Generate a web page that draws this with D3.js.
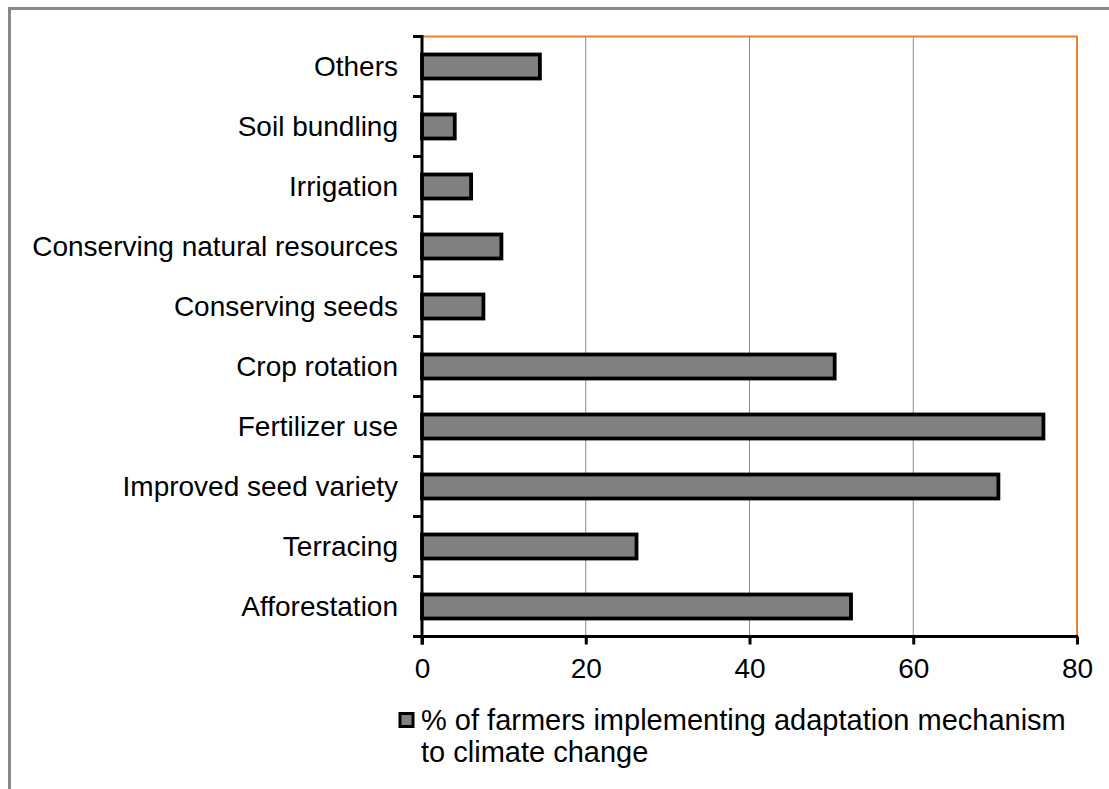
<!DOCTYPE html>
<html>
<head>
<meta charset="utf-8">
<script src="https://cdn.jsdelivr.net/npm/d3@7"></script>
<style>
  html, body { margin: 0; padding: 0; background: #fff; }
  svg { display: block; font-family: "Liberation Sans", Arial, sans-serif; }
</style>
</head>
<body>
<svg id="chart" width="1109" height="789"></svg>
<script>
// Adaptation mechanisms, listed bottom to top as drawn
const categories = [
  "Afforestation",
  "Terracing",
  "Improved seed variety",
  "Fertilizer use",
  "Crop rotation",
  "Conserving seeds",
  "Conserving natural resources",
  "Irrigation",
  "Soil bundling",
  "Others"
];
const percentFarmers = [52.4, 26.2, 70.4, 75.9, 50.4, 7.5, 9.7, 6.0, 4.0, 14.4];
const xTicks = [0, 20, 40, 60, 80];
const legendLines = ["% of farmers implementing adaptation mechanism", "to climate change"];

const svg = d3.select("#chart");
const W = 1109, H = 789;
const m = { left: 422, right: 1077, top: 36.5, bottom: 636.5 };
const fontSize = 28;

// outer frame (only top and left edges fall inside the canvas)
svg.append("path")
  .attr("d", `M9.5,${H} V8.5 H${W}`)
  .attr("fill", "none")
  .attr("stroke", "#888")
  .attr("stroke-width", 3);

const x = d3.scaleLinear().domain([0, 80]).range([m.left, m.right]);
const y = d3.scaleBand()
  .domain(categories.slice().reverse())
  .range([m.top, m.bottom])
  .paddingInner(0.6)
  .paddingOuter(0.3);

// vertical gridlines
svg.append("g")
  .selectAll("line")
  .data(xTicks.filter(t => t > 0 && t < 80))
  .join("line")
  .attr("x1", d => x(d)).attr("x2", d => x(d))
  .attr("y1", m.top).attr("y2", m.bottom)
  .attr("stroke", "#8c8c8c")
  .attr("stroke-width", 1);

// plot area top and right edges
svg.append("path")
  .attr("d", `M${m.left},${m.top} H${m.right} V${m.bottom}`)
  .attr("fill", "none")
  .attr("stroke", "#ED7D31")
  .attr("stroke-width", 2);

// bars
svg.append("g")
  .selectAll("rect")
  .data(categories.map((c, i) => ({ c, v: percentFarmers[i] })))
  .join("rect")
  .attr("x", x(0))
  .attr("y", d => y(d.c))
  .attr("width", d => x(d.v) - x(0))
  .attr("height", y.bandwidth())
  .attr("fill", "#808080")
  .attr("stroke", "#000")
  .attr("stroke-width", 3.8);

// y axis with ticks at category boundaries
const yAxisG = svg.append("g");
const bandStep = (m.bottom - m.top) / categories.length;
yAxisG.selectAll("line.tick")
  .data(d3.range(categories.length + 1))
  .join("line")
  .attr("x1", m.left - 9).attr("x2", m.left)
  .attr("y1", i => m.top + i * bandStep)
  .attr("y2", i => m.top + i * bandStep)
  .attr("stroke", "#000").attr("stroke-width", 3);
yAxisG.append("line")
  .attr("x1", m.left).attr("x2", m.left)
  .attr("y1", m.top - 1.5).attr("y2", m.bottom + 8)
  .attr("stroke", "#000").attr("stroke-width", 3);
yAxisG.selectAll("text")
  .data(categories)
  .join("text")
  .attr("x", 398)
  .attr("y", d => y(d) + y.bandwidth() / 2)
  .attr("dy", "0.35em")
  .attr("text-anchor", "end")
  .attr("font-size", fontSize)
  .attr("fill", "#000")
  .text(d => d);

// x axis
const xAxis = d3.axisBottom(x).tickValues(xTicks).tickSize(8).tickPadding(14).tickFormat(d3.format("d"));
const xAxisG = svg.append("g")
  .attr("transform", `translate(0,${m.bottom})`)
  .call(xAxis);
xAxisG.select(".domain").attr("stroke", "#000").attr("stroke-width", 3)
  .attr("d", `M${m.left - 1.5},0 H${m.right + 1}`);
xAxisG.selectAll(".tick line").attr("stroke", "#000").attr("stroke-width", 3);
xAxisG.selectAll(".tick text")
  .attr("font-size", fontSize)
  .attr("font-family", "Liberation Sans, Arial, sans-serif")
  .attr("fill", "#000");

// legend
const lg = svg.append("g");
lg.append("rect")
  .attr("x", 400).attr("y", 713.5)
  .attr("width", 13).attr("height", 13)
  .attr("fill", "#808080")
  .attr("stroke", "#000")
  .attr("stroke-width", 3);
lg.selectAll("text")
  .data(legendLines)
  .join("text")
  .attr("x", 421)
  .attr("y", (d, i) => 730 + i * 32)
  .attr("font-size", 29)
  .attr("fill", "#000")
  .text(d => d);
</script>
</body>
</html>
